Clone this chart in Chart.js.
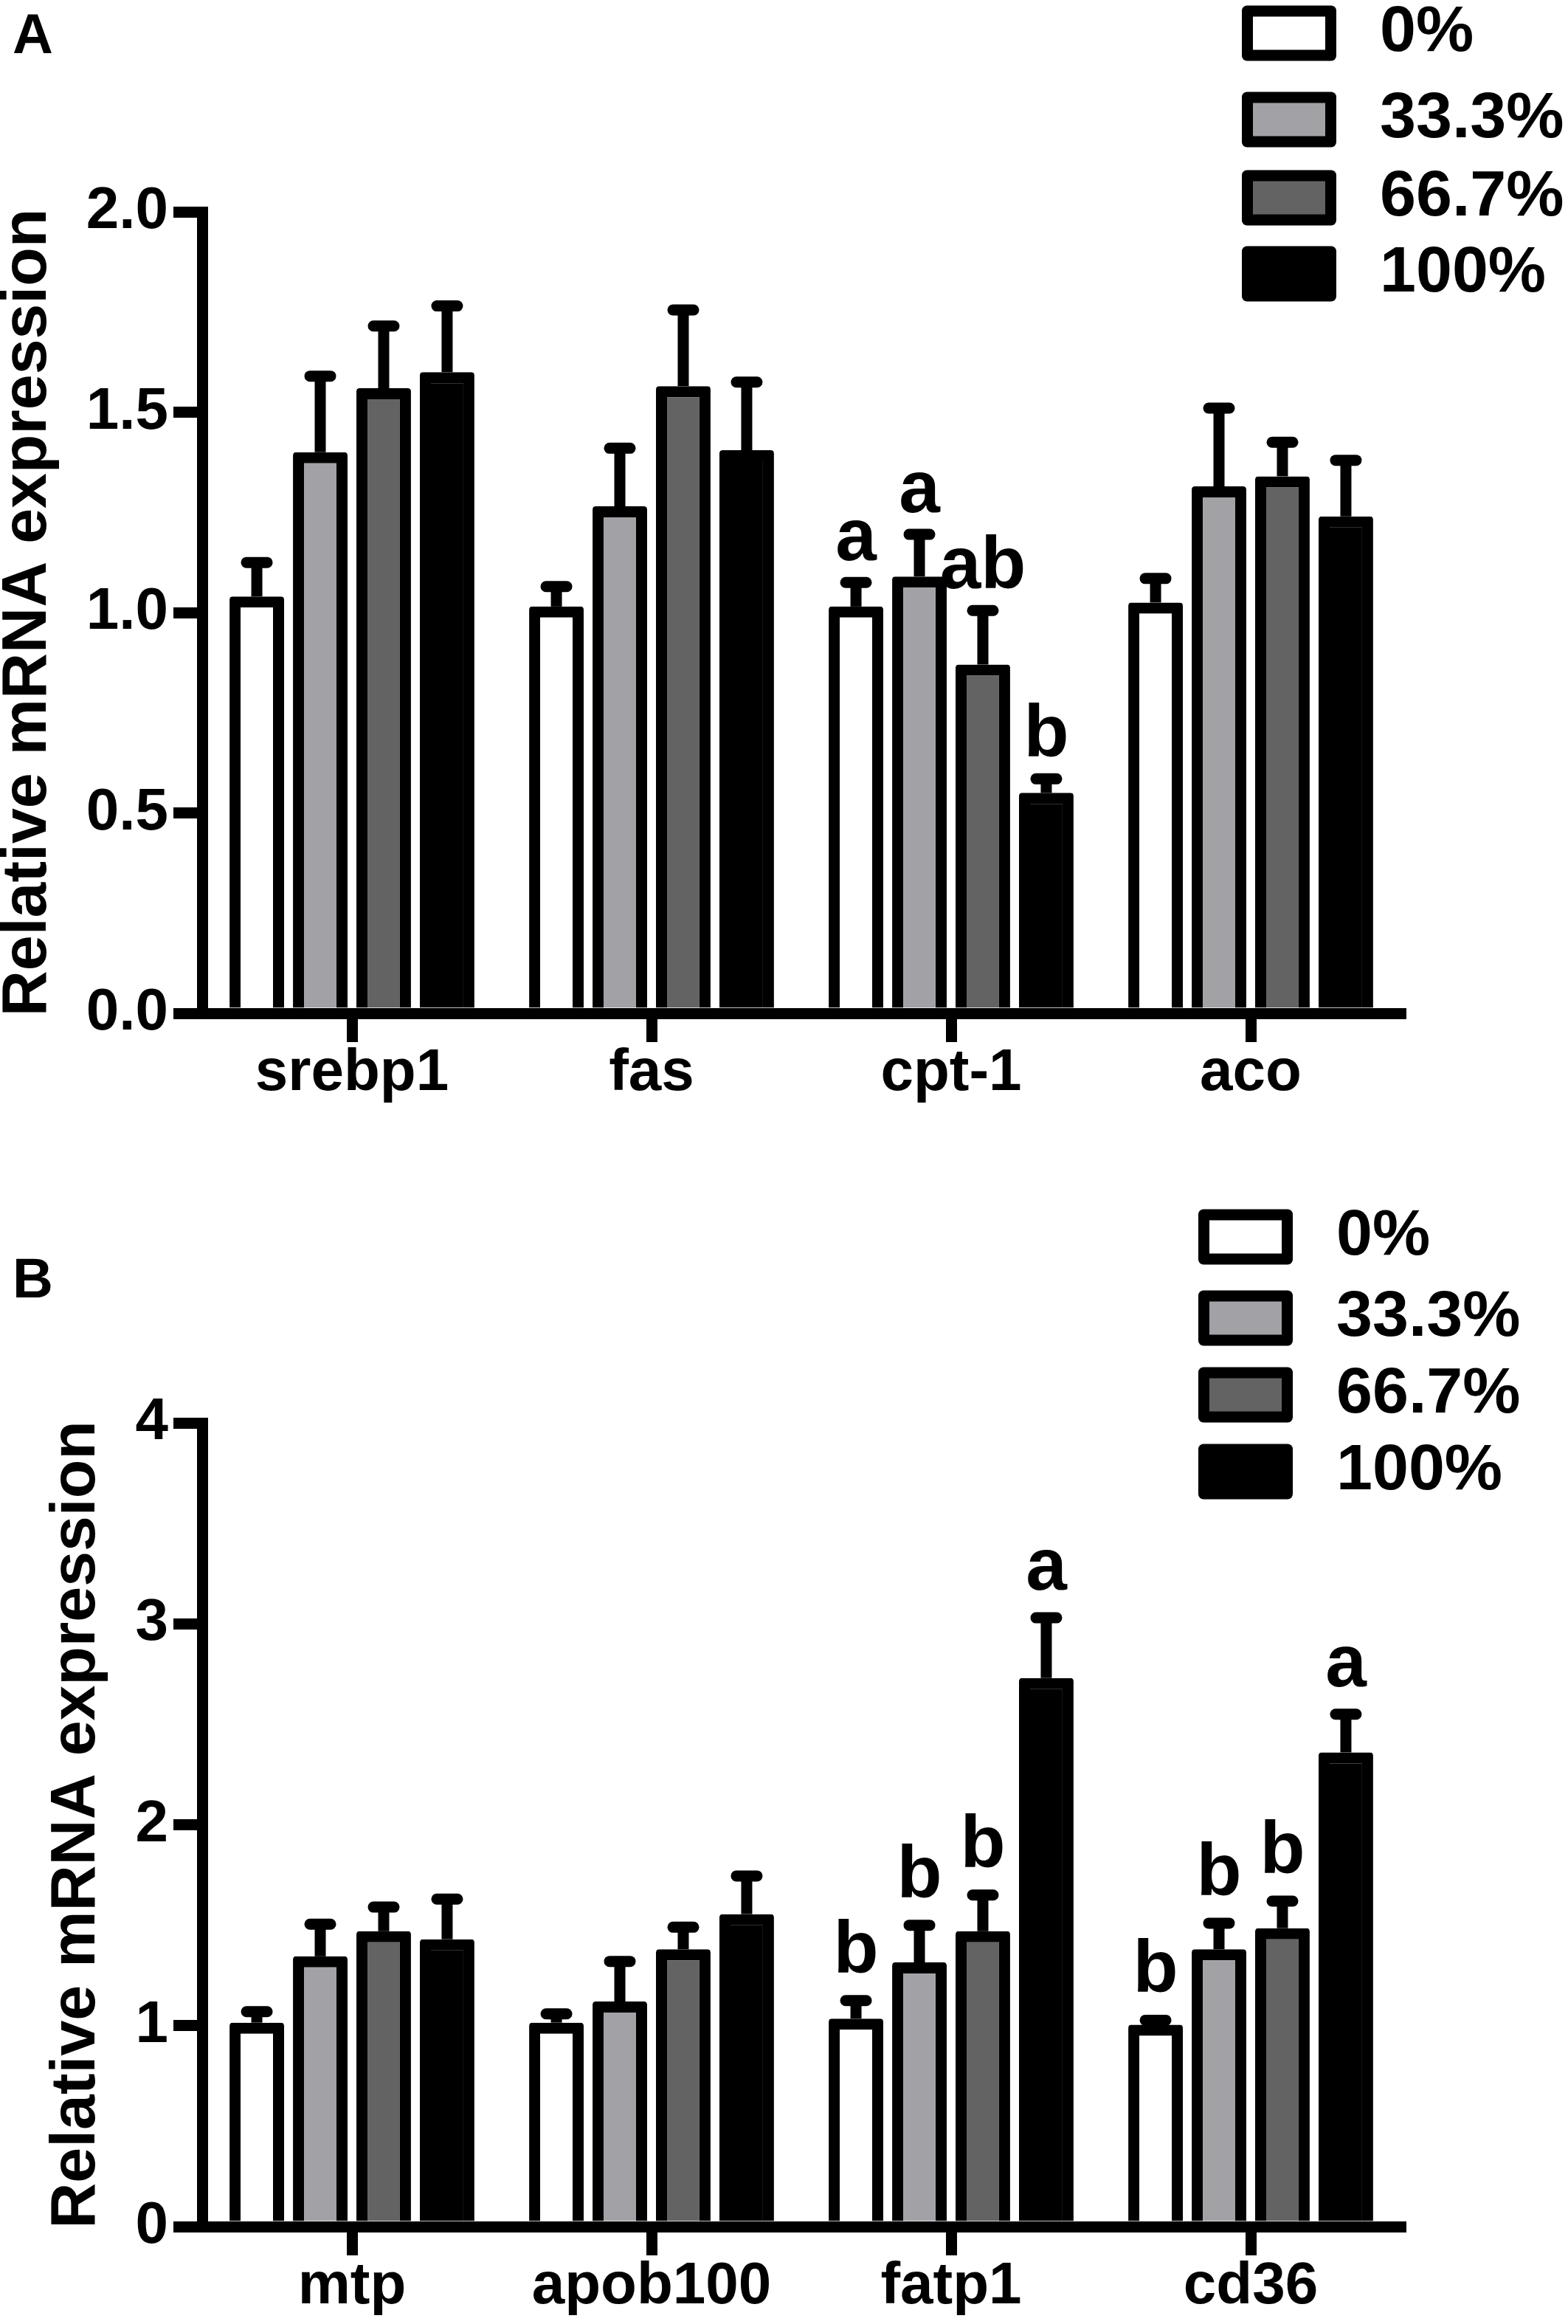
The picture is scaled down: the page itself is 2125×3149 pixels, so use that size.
<!DOCTYPE html>
<html>
<head>
<meta charset="utf-8">
<script src="https://cdn.jsdelivr.net/npm/chart.js@4.4.0/dist/chart.umd.min.js"></script>
<style>
  body { margin: 0; background: #fff; }
  .panel { position: absolute; left: 0; width: 2125px; }
  #panelA { top: 0; height: 1575px; }
  #panelB { top: 1575px; height: 1574px; }
</style>
</head>
<body>
<div class="panel" id="panelA"><canvas id="chartA"></canvas></div>
<div class="panel" id="panelB"><canvas id="chartB"></canvas></div>
<script>
// groups (diet replacement level)
var groups = ['0%', '33.3%', '66.7%', '100%'];

// panel A
var genesA = ['srebp1', 'fas', 'cpt-1', 'aco'];
var yTicksA = ['0.0', '0.5', '1.0', '1.5', '2.0'];
var meanA0 = [1.04, 1.015, 1.015, 1.025];
var meanA33 = [1.40, 1.265, 1.09, 1.315];
var meanA67 = [1.56, 1.565, 0.87, 1.34];
var meanA100 = [1.60, 1.405, 0.55, 1.24];
var errA0 = [0.085, 0.05, 0.06, 0.06];
var errA33 = [0.19, 0.145, 0.105, 0.195];
var errA67 = [0.155, 0.19, 0.135, 0.085];
var errA100 = [0.165, 0.17, 0.035, 0.14];
var letA0 = ['', '', 'a', ''];
var letA33 = ['', '', 'a', ''];
var letA67 = ['', '', 'ab', ''];
var letA100 = ['', '', 'b', ''];

// panel B
var genesB = ['mtp', 'apob100', 'fatp1', 'cd36'];
var yTicksB = ['0', '1', '2', '3', '4'];
var meanB0 = [1.015, 1.015, 1.035, 1.005];
var meanB33 = [1.345, 1.12, 1.315, 1.38];
var meanB67 = [1.47, 1.38, 1.47, 1.485];
var meanB100 = [1.43, 1.555, 2.73, 2.36];
var errB0 = [0.055, 0.044, 0.09, 0.022];
var errB33 = [0.16, 0.2, 0.185, 0.13];
var errB67 = [0.12, 0.11, 0.18, 0.135];
var errB100 = [0.2, 0.19, 0.3, 0.19];
var letB0 = ['', '', 'b', 'b'];
var letB33 = ['', '', 'b', 'b'];
var letB67 = ['', '', 'b', 'b'];
var letB100 = ['', '', 'a', 'a'];

var fillColors = ['#ffffff', '#a2a2a6', '#636363', '#000000'];
var FONT = "'Liberation Sans', Arial, sans-serif";

function makeSets(means, errs, lets) {
  return groups.map(function (g, k) {
    return {
      label: g,
      data: means[k],
      errors: errs[k],
      letters: lets[k],
      backgroundColor: fillColors[k],
      borderColor: '#000',
      borderWidth: 15,
      borderRadius: 4,
      borderSkipped: 'start',
      categoryPercentage: 0.847,
      barPercentage: 0.86
    };
  });
}

// error bars, letters, legend and panel letter
var extras = {
  id: 'extras',
  afterDatasetsDraw: function (chart, args, o) {
    var ctx = chart.ctx, y = chart.scales.y;
    ctx.save();
    ctx.strokeStyle = '#000';
    ctx.fillStyle = '#000';
    ctx.lineWidth = 15;
    chart.data.datasets.forEach(function (ds, di) {
      chart.getDatasetMeta(di).data.forEach(function (bar, i) {
        var top = y.getPixelForValue(ds.data[i] + ds.errors[i]);
        ctx.lineCap = 'butt';
        ctx.beginPath(); ctx.moveTo(bar.x, bar.y); ctx.lineTo(bar.x, top); ctx.stroke();
        ctx.lineCap = 'round';
        ctx.beginPath(); ctx.moveTo(bar.x - 14, top); ctx.lineTo(bar.x + 14, top); ctx.stroke();
        if (ds.letters[i]) {
          ctx.font = 'bold 100px ' + FONT;
          ctx.textAlign = 'center';
          ctx.textBaseline = 'alphabetic';
          ctx.fillText(ds.letters[i], bar.x, top - o.letterGap);
        }
      });
    });
    ctx.restore();
  },
  afterDraw: function (chart, args, o) {
    var ctx = chart.ctx;
    ctx.save();
    chart.data.datasets.forEach(function (ds, k) {
      var cy = o.rows[k], x = o.boxX, w = 128, h = 75;
      ctx.fillStyle = '#000';
      ctx.beginPath(); ctx.roundRect(x, cy - h / 2, w, h, 7); ctx.fill();
      ctx.fillStyle = ds.backgroundColor;
      ctx.fillRect(x + 15, cy - h / 2 + 15, w - 30, h - 30);
      ctx.fillStyle = '#000';
      ctx.font = 'bold 88px ' + FONT;
      ctx.textAlign = 'left';
      ctx.textBaseline = 'middle';
      ctx.fillText(ds.label, x + w + 59, cy);
    });
    ctx.font = 'bold 76px ' + FONT;
    ctx.textAlign = 'left';
    ctx.textBaseline = 'alphabetic';
    ctx.fillText(o.panel, 17, o.panelY);
    ctx.restore();
  }
};

function makeChart(id, genes, sets, ticks, yMax, step, pad, xHeight, titlePad, extraOpts) {
  return new Chart(document.getElementById(id), {
    type: 'bar',
    data: { labels: genes, datasets: sets },
    plugins: [extras],
    options: {
      responsive: true,
      maintainAspectRatio: false,
      animation: false,
      layout: { padding: pad },
      plugins: { legend: { display: false }, tooltip: { enabled: false }, extras: extraOpts },
      scales: {
        x: {
          z: 1,
          offset: true,
          grid: { offset: false, drawOnChartArea: false, drawTicks: true, tickLength: 39, lineWidth: 15, color: '#000' },
          border: { display: true, width: 15, color: '#000' },
          ticks: { color: '#000', padding: 3, font: { family: FONT, size: 80, weight: 'bold', lineHeight: 1 } },
          afterFit: function (s) { s.height = xHeight; }
        },
        y: {
          z: 1,
          min: 0,
          max: yMax,
          grid: { drawOnChartArea: false, drawTicks: true, tickLength: 39, lineWidth: 15, color: '#000' },
          border: { display: true, width: 15, color: '#000' },
          ticks: {
            stepSize: step,
            color: '#000',
            padding: 7,
            font: { family: FONT, size: 80, weight: 'bold' },
            callback: function (v, i) { return ticks[i]; }
          },
          title: {
            display: true,
            text: 'Relative mRNA expression',
            color: '#000',
            padding: { top: titlePad, bottom: 0 },
            font: { family: FONT, size: 86, weight: 'bold', lineHeight: 0.9 }
          },
          afterFit: function (s) { s.width = 274; }
        }
      }
    }
  });
}

makeChart('chartA', genesA,
  makeSets([meanA0, meanA33, meanA67, meanA100], [errA0, errA33, errA67, errA100], [letA0, letA33, letA67, letA100]),
  yTicksA, 2, 0.5, { left: 0, top: 287, right: 227, bottom: 52 }, 150, 0,
  { letterGap: 30, rows: [45, 162, 268, 371], boxX: 1683, panel: 'A', panelY: 72 });

makeChart('chartB', genesB,
  makeSets([meanB0, meanB33, meanB67, meanB100], [errB0, errB33, errB67, errB100], [letB0, letB33, letB67, letB100]),
  yTicksB, 4, 1, { left: 0, top: 353, right: 227, bottom: 12 }, 120, 66,
  { letterGap: 38, rows: [101, 211, 315, 419], boxX: 1624, panel: 'B', panelY: 183 });
</script>
</body>
</html>
